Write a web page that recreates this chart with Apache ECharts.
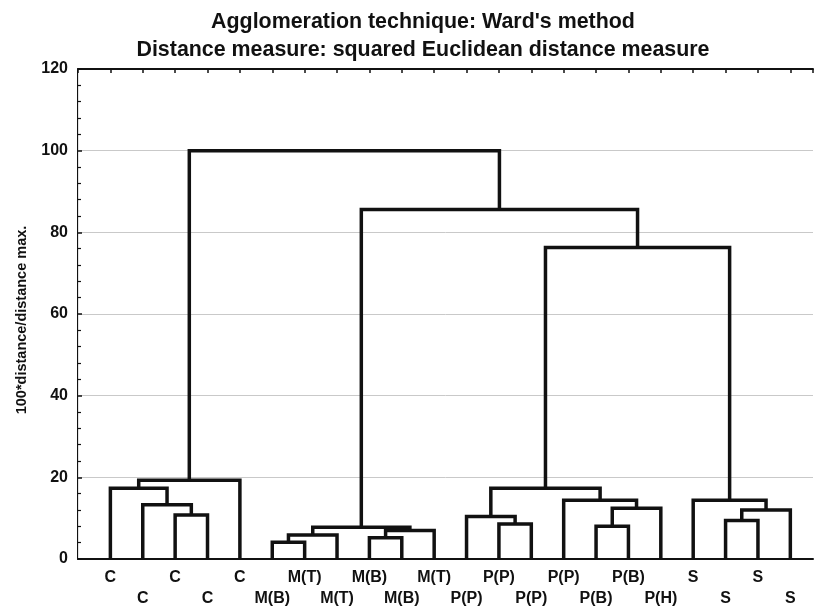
<!DOCTYPE html>
<html>
<head>
<meta charset="utf-8">
<script src="https://cdn.jsdelivr.net/npm/echarts@6/dist/echarts.min.js"></script>
<style>
	html, body { margin: 0; padding: 0; background: #fff; }
	#chart { width: 816px; height: 609px; }
</style>
</head>
<body>
<div id="chart"></div>
<script>
// 叶子标签，按树状图顺序
const leafLabels = ['C', 'C', 'C', 'C', 'C', 'M(B)', 'M(T)', 'M(T)', 'M(B)', 'M(B)', 'M(T)',
	'P(P)', 'P(P)', 'P(P)', 'P(P)', 'P(B)', 'P(B)', 'P(H)', 'S', 'S', 'S', 'S']

// 合并记录：左簇、右簇（0..21 为叶子，之后按顺序新建簇 22, 23, ...）
const mergeLeft = [2, 1, 0, 24, 5, 26, 8, 28, 27, 12, 11, 15, 33, 14, 32, 19, 37, 18, 36, 30, 25]
const mergeRight = [3, 22, 23, 4, 6, 7, 9, 10, 29, 13, 31, 16, 17, 34, 35, 20, 21, 38, 39, 40, 41]
// 合并高度 (100*distance/distance max.)
const mergeHeight = [10.8, 13.3, 17.3, 19.3, 4.1, 5.9, 5.2, 7.0, 7.8, 8.6, 10.4, 8.0, 12.4, 14.4, 17.3,
	9.4, 12.0, 14.4, 76.3, 85.6, 100]

const yTicks = [0, 20, 40, 60, 80, 100, 120]

const titleLines = ["Agglomeration technique: Ward's method", 'Distance measure: squared Euclidean distance measure']
const yAxisName = '100*distance/distance max.'

const fontFamily = '"Liberation Sans", Arial, sans-serif'
const ink = '#111'

/**
 * 由合并记录生成每条连线（倒U形）
 */
function buildLinks() {
	const pos = []
	const height = []
	leafLabels.forEach((_, i) => {
		pos.push(i + 1)
		height.push(0)
	})
	const links = []
	mergeLeft.forEach((a, k) => {
		const b = mergeRight[k]
		const h = mergeHeight[k]
		links.push([[pos[a], height[a]], [pos[a], h], [pos[b], h], [pos[b], height[b]]])
		pos.push((pos[a] + pos[b]) / 2)
		height.push(h)
	})
	return links
}

const chart = echarts.init(document.getElementById('chart'))

const series = buildLinks().map(points => ({
	type: 'line',
	data: points,
	symbol: 'none',
	silent: true,
	animation: false,
	lineStyle: { color: ink, width: 3.5, join: 'miter' },
}))

chart.setOption({
	backgroundColor: '#fff',
	animation: false,
	title: {
		text: titleLines.join('\n'),
		left: 418,
		top: 3,
		textAlign: 'center',
		textStyle: {
			fontFamily: fontFamily,
			fontSize: 21.4,
			fontWeight: 'bold',
			color: ink,
			lineHeight: 28,
		},
	},
	grid: {
		left: 78,
		top: 69,
		right: 2,
		bottom: 49,
		containLabel: false,
	},
	xAxis: [
		{
			type: 'value',
			position: 'bottom',
			min: 0,
			max: 22.7,
			interval: 1,
			axisLine: { show: true, onZero: false, lineStyle: { color: ink, width: 2 } },
			axisTick: { show: false },
			splitLine: { show: false },
			axisLabel: {
				show: true,
				margin: 8,
				fontFamily: fontFamily,
				fontSize: 16,
				fontWeight: 'bold',
				color: ink,
				lineHeight: 21,
				showMinLabel: true,
				showMaxLabel: true,
				// 奇偶交替两行标签
				formatter: (value) => {
					const i = Math.round(value)
					if (Math.abs(value - i) > 1e-6 || i < 1 || i > leafLabels.length) {
						return ''
					}
					return i % 2 === 1 ? leafLabels[i - 1] : '\n' + leafLabels[i - 1]
				},
			},
		},
		{
			type: 'value',
			position: 'top',
			min: 0,
			max: 22.7,
			interval: 1,
			axisLine: { show: true, onZero: false, lineStyle: { color: ink, width: 2 } },
			axisTick: { show: true, inside: true, length: 4, lineStyle: { color: ink, width: 1.5 } },
			axisLabel: { show: false },
			splitLine: { show: false },
		},
	],
	yAxis: [
		{
			type: 'value',
			min: yTicks[0],
			max: yTicks[yTicks.length - 1],
			interval: 20,
			name: yAxisName,
			nameLocation: 'middle',
			nameGap: 49,
			nameTextStyle: {
				fontFamily: fontFamily,
				fontSize: 14.5,
				fontWeight: 'bold',
				color: ink,
				padding: [0, 12, 0, 0],
			},
			axisLine: { show: true, onZero: false, lineStyle: { color: ink, width: 2 } },
			axisTick: { show: true, inside: true, length: 4, lineStyle: { color: ink, width: 1.5 } },
			minorTick: { show: true, splitNumber: 5, length: 3, lineStyle: { color: ink, width: 1.2 } },
			splitLine: { show: true, lineStyle: { color: '#c9c9c9', width: 1 } },
			axisLabel: {
				margin: 10,
				fontFamily: fontFamily,
				fontSize: 16,
				fontWeight: 'bold',
				color: ink,
			},
		},
		{
			type: 'value',
			position: 'right',
			min: 0,
			max: 120,
			axisLine: { show: true, lineStyle: { color: '#e2e2e2', width: 1 } },
			axisTick: { show: false },
			axisLabel: { show: false },
			splitLine: { show: false },
		},
	],
	series: series,
})
</script>
</body>
</html>
